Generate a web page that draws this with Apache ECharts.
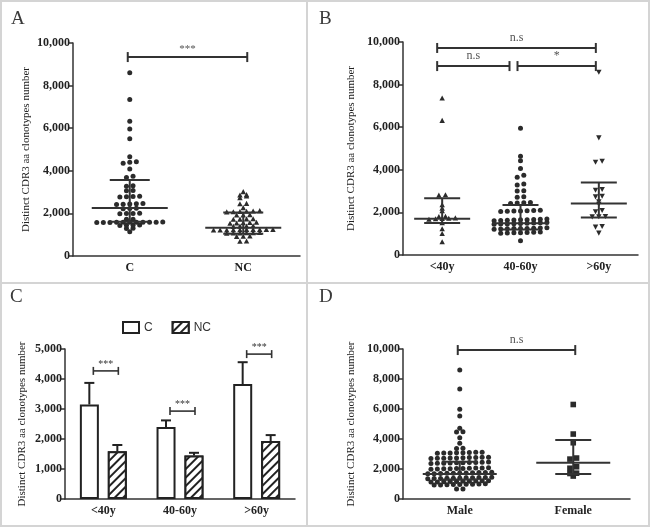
<!DOCTYPE html>
<html><head><meta charset="utf-8">
<script src="https://cdn.jsdelivr.net/npm/echarts@6/dist/echarts.min.js"></script>
<style>html,body{margin:0;padding:0;background:#fff}#c{width:651px;height:528px}</style>
</head><body><div id="c"></div>
<script>
// ================= DATA =================
const yName = 'Distinct CDR3 aa clonotypes number';
const panelLetters = ['A', 'B', 'C', 'D'];

// Panel A
const catsA = ['C', 'NC'];
const A_C = [8600, 7350, 6330, 5960, 5500, 4660, 4430, 4400, 4360, 4080, 3750, 3680, 3300, 3280, 3080, 3060,
  2800, 2790, 2780, 2770, 2470, 2450, 2440, 2430, 2420, 2240, 2230, 2220, 2010, 2000, 1990, 1980, 1730, 1720,
  1600, 1590, 1590, 1590, 1580, 1580, 1580, 1580, 1570, 1570, 1570, 1450, 1440, 1440, 1430, 1300, 1290, 1140];
const A_NC = [3000, 2860, 2840, 2800, 2720, 2450, 2430, 2250, 2110, 2090, 2080, 2070, 2060, 2050, 1920, 1910, 1900,
  1730, 1720, 1710, 1700, 1560, 1550, 1540, 1530, 1520, 1400, 1390, 1380, 1370, 1230, 1230, 1220, 1220, 1220,
  1210, 1210, 1200, 1200, 1200, 1080, 1070, 1070, 1060, 1060, 1050, 920, 910, 900, 680, 670];
const A_median = [2250, 1330];
const A_q1 = [1610, 1050];
const A_q3 = [3570, 2040];
const A_brackets = [[0, 1, 9340]];
const A_bracketLabels = ['***'];

// Panel B
const catsB = ['<40y', '40-60y', '>60y'];
const B_lt40 = [7350, 6300, 2810, 2790, 2340, 2180, 2060, 1800, 1790, 1720, 1700, 1690, 1680, 1660, 1500, 1210, 990, 600];
const B_40to60 = [5950, 4640, 4430, 4060, 3750, 3650, 3330, 3290, 3020, 3000, 2730, 2710, 2460, 2450, 2440, 2420,
  2100, 2090, 2080, 2070, 2060, 2050, 2040, 1690, 1680, 1670, 1660, 1650, 1640, 1630, 1620, 1610,
  1520, 1510, 1500, 1490, 1480, 1470, 1460, 1450, 1440, 1280, 1270, 1260, 1250, 1250, 1240, 1230, 1220, 1210,
  1080, 1070, 1060, 1050, 1040, 1030, 1020, 670];
const B_gt60 = [8600, 5520, 4420, 4380, 3100, 3060, 2780, 2750, 2520, 2400, 2110, 2050, 1830, 1820, 1810, 1360, 1330, 1050];
const B_median = [1700, 1490, 2420];
const B_q1 = [1500, 1200, 1760];
const B_q3 = [2660, 2350, 3400];
const B_brackets = [[0, 2, 9720], [0, 1, 8870], [1, 2, 8870]];
const B_bracketLabels = ['n.s', 'n.s', '*'];

// Panel C
const catsC = ['<40y', '40-60y', '>60y'];
const seriesNamesC = ['C', 'NC'];
const C_mean = [3150, 2400, 3830];
const C_upper = [3870, 2620, 4560];
const NC_mean = [1590, 1450, 1930];
const NC_upper = [1800, 1540, 2130];
const C_brackets = [[0, 4270], [1, 2930], [2, 4830]];
const C_bracketLabels = ['***', '***', '***'];

// Panel D
const catsD = ['Male', 'Female'];
const D_male = [8600, 7330, 5980, 5530, 4710, 4490, 4470, 4090, 3710, 3380, 3370,
  3120, 3110, 3100, 3090, 3080, 3070, 3060, 3050,
  2790, 2780, 2770, 2760, 2750, 2740, 2730, 2720, 2710, 2700,
  2460, 2450, 2440, 2430, 2420, 2410, 2400, 2390, 2380, 2370,
  2080, 2070, 2060, 2050, 2040, 2030, 2020, 2010, 2000, 1990,
  1780, 1770, 1760, 1750, 1740, 1730, 1720, 1710, 1700, 1690, 1680,
  1450, 1440, 1430, 1420, 1410, 1400, 1390, 1380, 1370, 1360, 1350,
  1220, 1210, 1200, 1190, 1180, 1170, 1160, 1150, 1140, 1130,
  1010, 1000, 990, 980, 970, 960, 950, 940, 930,
  670, 660];
const D_female = [6300, 4330, 3750, 2730, 2660, 2150, 2050, 1720, 1700, 1530];
const D_median = [1670, 2420];
const D_q1 = [1300, 1670];
const D_q3 = [2490, 3930];
const D_brackets = [[0, 1, 9930]];
const D_bracketLabels = ['n.s'];

// ================= LAYOUT / STYLE =================
const INK = '#2b2b2b';
const SERIF = '"Liberation Serif", "Times New Roman", serif';
const SANS = '"Liberation Sans", Arial, sans-serif';

const grids = [
  { left: 73, top: 43, width: 227, height: 213 },
  { left: 403, top: 42, width: 235, height: 213 },
  { left: 65, top: 349, width: 230, height: 150 },
  { left: 403, top: 349, width: 227, height: 150 }
];
const yMax = [10000, 10000, 5000, 10000];
const yInt = [2000, 2000, 1000, 2000];
const nameGaps = [41, 46, 37, 46];

// row-based swarm: groups near-equal values into rows, spreads each row symmetrically
function swarm(values, cat, pxPerUnit, rowPx) {
  const s = values.slice().sort((a, b) => a - b);
  const out = [];
  let row = [];
  const flush = () => {
    const n = row.length;
    row.forEach((v, i) => out.push([cat, v, i - (n - 1) / 2]));
    row = [];
  };
  s.forEach(v => {
    if (row.length && (v - row[0]) * pxPerUnit > rowPx) flush();
    row.push(v);
  });
  flush();
  return out;
}

function shapeEl(shape, x, y, r) {
  const style = { fill: INK };
  if (shape === 'circle') return { type: 'circle', shape: { cx: x, cy: y, r: r }, style };
  if (shape === 'square') return { type: 'rect', shape: { x: x - r, y: y - r, width: 2 * r, height: 2 * r }, style };
  if (shape === 'tri') return { type: 'polygon', shape: { points: [[x, y - r * 1.15], [x + r * 1.05, y + r * 0.8], [x - r * 1.05, y + r * 0.8]] }, style };
  return { type: 'polygon', shape: { points: [[x, y + r * 1.15], [x + r * 1.05, y - r * 0.8], [x - r * 1.05, y - r * 0.8]] }, style };
}

function dotSeries(g, values, cat, shape, step, r) {
  const ppu = grids[g].height / yMax[g];
  return {
    type: 'custom', xAxisIndex: g, yAxisIndex: g, z: 3, silent: true, clip: false,
    data: swarm(values, cat, ppu, 2.5),
    renderItem(params, api) {
      const p = api.coord([api.value(0), api.value(1)]);
      return shapeEl(shape, p[0] + api.value(2) * step, p[1], r);
    }
  };
}

function statSeries(g, med, q1, q3, mw, qw) {
  const data = med.map((m, i) => [i, m, q1[i], q3[i]]);
  return {
    type: 'custom', xAxisIndex: g, yAxisIndex: g, z: 4, silent: true, clip: false, data,
    renderItem(params, api) {
      const c = api.value(0);
      const pm = api.coord([c, api.value(1)]);
      const p1 = api.coord([c, api.value(2)]);
      const p3 = api.coord([c, api.value(3)]);
      const st = { stroke: '#333', lineWidth: 2 };
      return { type: 'group', children: [
        { type: 'line', shape: { x1: p1[0], y1: p1[1], x2: p3[0], y2: p3[1] }, style: st },
        { type: 'line', shape: { x1: pm[0] - mw, y1: pm[1], x2: pm[0] + mw, y2: pm[1] }, style: st },
        { type: 'line', shape: { x1: p1[0] - qw, y1: p1[1], x2: p1[0] + qw, y2: p1[1] }, style: st },
        { type: 'line', shape: { x1: p3[0] - qw, y1: p3[1], x2: p3[0] + qw, y2: p3[1] }, style: st }
      ] };
    }
  };
}

// bracket endpoint pixel adjustments (layout only)
const bracketInsets = {
  0: [[-2, 4]],
  1: [[-5, -3], [-5, -11], [-3, -3]],
  3: [[-2, 2]]
};
function bracketSeries(g, brackets, labels, font, tick, textGap) {
  return {
    type: 'custom', xAxisIndex: g, yAxisIndex: g, z: 5, silent: true, clip: false, data: brackets,
    renderItem(params, api) {
      const i = params.dataIndex;
      const ins = bracketInsets[g][i];
      const a = api.coord([api.value(0), api.value(2)]);
      const b = api.coord([api.value(1), api.value(2)]);
      const x1 = a[0] + ins[0], x2 = b[0] + ins[1], y = a[1];
      const st = { stroke: '#333', lineWidth: 2 };
      return { type: 'group', children: [
        { type: 'line', shape: { x1, y1: y, x2, y2: y }, style: st },
        { type: 'line', shape: { x1, y1: y - tick, x2: x1, y2: y + tick }, style: st },
        { type: 'line', shape: { x1: x2, y1: y - tick, x2: x2, y2: y + tick }, style: st },
        { type: 'text', style: { text: labels[i], x: (x1 + x2) / 2, y: y - textGap, align: 'center', verticalAlign: 'bottom', fill: '#555', font } }
      ] };
    }
  };
}

// panel C: within-category brackets
function cBracketSeries(g) {
  return {
    type: 'custom', xAxisIndex: g, yAxisIndex: g, z: 5, silent: true, clip: false, data: C_brackets,
    renderItem(params, api) {
      const p = api.coord([api.value(0), api.value(1)]);
      const x1 = p[0] - 10, x2 = p[0] + 15, y = p[1];
      const st = { stroke: '#333', lineWidth: 1.6 };
      return { type: 'group', children: [
        { type: 'line', shape: { x1, y1: y, x2, y2: y }, style: st },
        { type: 'line', shape: { x1, y1: y - 4, x2: x1, y2: y + 4 }, style: st },
        { type: 'line', shape: { x1: x2, y1: y - 4, x2: x2, y2: y + 4 }, style: st },
        { type: 'text', style: { text: C_bracketLabels[params.dataIndex], x: (x1 + x2) / 2, y: y - 2, align: 'center', verticalAlign: 'bottom', fill: '#333', font: '10px ' + SERIF } }
      ] };
    }
  };
}

function errSeries(g, means, uppers, dx) {
  return {
    type: 'custom', xAxisIndex: g, yAxisIndex: g, z: 4, silent: true, clip: false,
    data: means.map((m, i) => [i, m, uppers[i]]),
    renderItem(params, api) {
      const pm = api.coord([api.value(0), api.value(1)]);
      const pu = api.coord([api.value(0), api.value(2)]);
      const x = pm[0] + dx;
      const st = { stroke: '#222', lineWidth: 2 };
      return { type: 'group', children: [
        { type: 'line', shape: { x1: x, y1: pm[1], x2: x, y2: pu[1] }, style: st },
        { type: 'line', shape: { x1: x - 5, y1: pu[1], x2: x + 5, y2: pu[1] }, style: st }
      ] };
    }
  };
}

const xAxes = [catsA, catsB, catsC, catsD].map((cats, g) => ({
  type: 'category', gridIndex: g, data: cats, boundaryGap: true,
  axisLine: { lineStyle: { color: '#333', width: 1.5 } },
  axisTick: { alignWithLabel: true, length: 4, lineStyle: { color: '#333', width: 1.5 } },
  axisLabel: { fontFamily: SERIF, fontWeight: 'bold', fontSize: 12, color: '#222', margin: 6 },
  splitLine: { show: false }
}));
const yAxes = grids.map((gr, g) => ({
  type: 'value', gridIndex: g, min: 0, max: yMax[g], interval: yInt[g],
  name: yName, nameLocation: 'middle', nameGap: nameGaps[g],
  nameTextStyle: { fontFamily: SERIF, fontSize: 11, color: '#222' },
  axisLine: { show: true, lineStyle: { color: '#333', width: 1.5 } },
  axisTick: { show: true, length: 4, lineStyle: { color: '#333', width: 1.5 } },
  axisLabel: { fontFamily: SERIF, fontWeight: 'bold', fontSize: 12, color: '#222', margin: 3,
    formatter: v => v.toLocaleString('en-US') },
  splitLine: { show: false }
}));

const letterPos = [[11, 10], [319, 10], [10, 288], [319, 288]];
const graphic = [
  { type: 'rect', shape: { x: 1, y: 1, width: 648, height: 525 }, style: { fill: 'none', stroke: '#d4d4d4', lineWidth: 2 }, silent: true },
  { type: 'line', shape: { x1: 307, y1: 1, x2: 307, y2: 526 }, style: { stroke: '#d4d4d4', lineWidth: 2 }, silent: true },
  { type: 'line', shape: { x1: 1, y1: 283, x2: 649, y2: 283 }, style: { stroke: '#d4d4d4', lineWidth: 2 }, silent: true }
].concat(panelLetters.map((t, i) => ({
  type: 'text', left: letterPos[i][0], top: letterPos[i][1],
  style: { text: t, font: '19px ' + SERIF, fill: '#3a3a3a' }, silent: true
})));

const option = {
  animation: false,
  backgroundColor: '#fff',
  grid: grids.map(g => Object.assign({ containLabel: false, outerBoundsMode: 'none' }, g)),
  xAxis: xAxes,
  yAxis: yAxes,
  legend: {
    data: seriesNamesC, top: 316, left: 117, itemWidth: 16, itemHeight: 11, itemGap: 19, icon: 'rect',
    selectedMode: false, textStyle: { fontFamily: SANS, fontSize: 12, color: '#333' }
  },
  graphic,
  series: [
    dotSeries(0, A_C, 0, 'circle', 6.6, 2.5),
    dotSeries(0, A_NC, 1, 'tri', 6.6, 2.6),
    statSeries(0, A_median, A_q1, A_q3, 38, 20),
    bracketSeries(0, A_brackets, A_bracketLabels, '11px ' + SERIF, 5, 2),

    dotSeries(1, B_lt40, 0, 'tri', 6.6, 2.6),
    dotSeries(1, B_40to60, 1, 'circle', 6.6, 2.5),
    dotSeries(1, B_gt60, 2, 'itri', 6.6, 2.6),
    statSeries(1, B_median, B_q1, B_q3, 28, 18),
    bracketSeries(1, B_brackets, B_bracketLabels, '12px ' + SERIF, 5, 4),

    { type: 'bar', name: seriesNamesC[0], xAxisIndex: 2, yAxisIndex: 2, data: C_mean, barWidth: 19, barGap: '47%',
      itemStyle: { color: '#fff', borderColor: '#222', borderWidth: 2 } },
    { type: 'bar', name: seriesNamesC[1], xAxisIndex: 2, yAxisIndex: 2, data: NC_mean, barWidth: 19,
      itemStyle: { color: '#fff', borderColor: '#222', borderWidth: 2,
        decal: { symbol: 'rect', symbolSize: 1, dashArrayX: [1, 0], dashArrayY: [1.5, 3.5], rotation: -Math.PI / 4, color: '#222', backgroundColor: '#fff' } } },
    errSeries(2, C_mean, C_upper, -14),
    errSeries(2, NC_mean, NC_upper, 14),
    cBracketSeries(2),

    dotSeries(3, D_male, 0, 'circle', 6.4, 2.5),
    dotSeries(3, D_female, 1, 'square', 6.6, 2.8),
    statSeries(3, D_median, D_q1, D_q3, 37, 18),
    bracketSeries(3, D_brackets, D_bracketLabels, '12px ' + SERIF, 5, 4)
  ]
};

const chart = echarts.init(document.getElementById('c'), null, { renderer: 'canvas' });
chart.setOption(option);
</script></body></html>
